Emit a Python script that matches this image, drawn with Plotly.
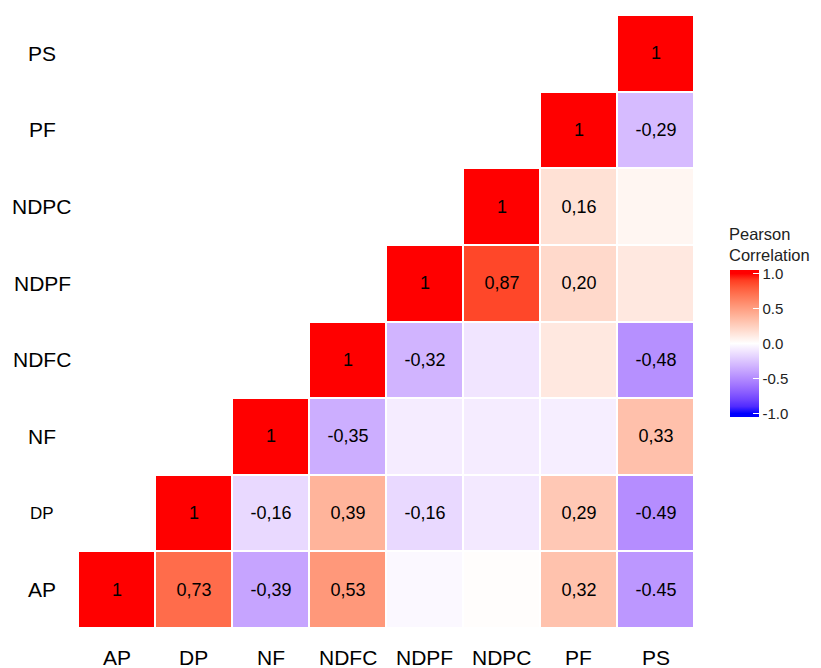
import plotly.graph_objects as go
import numpy as np

variables = ["AP", "DP", "NF", "NDFC", "NDPF", "NDPC", "PF", "PS"]

# correlation values per row (y variable), columns in order of `variables`
r_AP   = [1, 0.73, -0.39, 0.53, -0.03, 0.01, 0.32, -0.45]
r_DP   = [None, 1, -0.16, 0.39, -0.16, -0.09, 0.29, -0.49]
r_NF   = [None, None, 1, -0.35, -0.08, -0.08, -0.07, 0.33]
r_NDFC = [None, None, None, 1, -0.32, -0.11, 0.12, -0.48]
r_NDPF = [None, None, None, None, 1, 0.87, 0.20, 0.12]
r_NDPC = [None, None, None, None, None, 1, 0.16, 0.05]
r_PF   = [None, None, None, None, None, None, 1, -0.29]
r_PS   = [None, None, None, None, None, None, None, 1]

t_AP   = ["1", "0,73", "-0,39", "0,53", "", "", "0,32", "-0.45"]
t_DP   = ["", "1", "-0,16", "0,39", "-0,16", "", "0,29", "-0.49"]
t_NF   = ["", "", "1", "-0,35", "", "", "", "0,33"]
t_NDFC = ["", "", "", "1", "-0,32", "", "", "-0,48"]
t_NDPF = ["", "", "", "", "1", "0,87", "0,20", ""]
t_NDPC = ["", "", "", "", "", "1", "0,16", ""]
t_PF   = ["", "", "", "", "", "", "1", "-0,29"]
t_PS   = ["", "", "", "", "", "", "", "1"]

z = [r_AP, r_DP, r_NF, r_NDFC, r_NDPF, r_NDPC, r_PF, r_PS]
txt = [t_AP, t_DP, t_NF, t_NDFC, t_NDPF, t_NDPC, t_PF, t_PS]

legend_title = "Pearson<br>Correlation"
cbar_ticks = [-1, -0.5, 0, 0.5, 1]
cbar_ticktext = ["-1.0", "-0.5", "0.0", "0.5", "1.0"]


# Lab-space gradient blue - white - red (like ggplot scale_fill_gradient2)
def srgb_to_lin(c):
    c = c / 255.0
    return np.where(c <= 0.04045, c / 12.92, ((c + 0.055) / 1.055) ** 2.4)

def lin_to_srgb(c):
    c = np.clip(c, 0, 1)
    return np.where(c <= 0.0031308, 12.92 * c, 1.055 * c ** (1 / 2.4) - 0.055) * 255

M = np.array([[0.4124, 0.3576, 0.1805], [0.2126, 0.7152, 0.0722], [0.0193, 0.1192, 0.9505]])
Mi = np.linalg.inv(M)
wp = M @ np.ones(3)

def f(t):
    d = 6 / 29
    return np.where(t > d ** 3, np.cbrt(t), t / (3 * d * d) + 4 / 29)

def finv(t):
    d = 6 / 29
    return np.where(t > d, t ** 3, 3 * d * d * (t - 4 / 29))

def rgb2lab(rgb):
    xyz = M @ srgb_to_lin(np.array(rgb, float)) / wp
    fx, fy, fz = f(xyz)
    return np.array([116 * fy - 16, 500 * (fx - fy), 200 * (fy - fz)])

def lab2rgb(lab):
    L, a, b = lab
    fy = (L + 16) / 116
    fx = fy + a / 500
    fz = fy - b / 200
    xyz = finv(np.array([fx, fy, fz])) * wp
    return lin_to_srgb(Mi @ xyz)

# colour bar range is padded slightly beyond [-1, 1] (as ggplot's bar is)
PAD = 0.05
ZMIN, ZMAX = -1 - PAD, 1 + PAD
blue, white, red = rgb2lab([0, 0, 255]), rgb2lab([255, 255, 255]), rgb2lab([255, 0, 0])
colorscale = [[0.0, "rgb(0,0,255)"]]
n = 20
for i in range(n + 1):
    t = i / n
    if t <= 0.5:
        lab = blue + (white - blue) * (t / 0.5)
    else:
        lab = white + (red - white) * ((t - 0.5) / 0.5)
    c = lab2rgb(lab)
    v = -1 + 2 * t
    pos = (v - ZMIN) / (ZMAX - ZMIN)
    colorscale.append([pos, "rgb(%d,%d,%d)" % tuple(int(round(x)) for x in c)])
colorscale.append([1.0, "rgb(255,0,0)"])

FONT = "Liberation Sans"

fig = go.Figure(go.Heatmap(
    x=variables, y=variables, z=z, text=txt, texttemplate="%{text}",
    textfont=dict(size=18, color="black", family=FONT),
    colorscale=colorscale, zmin=ZMIN, zmax=ZMAX, xgap=2, ygap=2,
    hoverongaps=False,
    colorbar=dict(
        x=1.058, xanchor="left", xpad=0, y=0.464, yanchor="middle",
        len=147, lenmode="pixels", ypad=0,
        thickness=29, outlinewidth=0, tickvals=cbar_ticks,
        ticktext=cbar_ticktext, ticks="inside", ticklen=6,
        tickcolor="white", tickfont=dict(size=15, family=FONT, color="#222"),
    ),
))

annotations = []
for i, v in enumerate(variables):
    annotations.append(dict(x=v, y=0, xref="x", yref="paper", yshift=-29, text=v,
                            showarrow=False, xanchor="center", yanchor="middle",
                            font=dict(size=21, family=FONT, color="black")))
    annotations.append(dict(x=-0.058, y=v, xref="paper", yref="y", text=v,
                            showarrow=False, xanchor="center", yanchor="middle",
                            font=dict(size=17 if v == "DP" else 21, family=FONT, color="black")))
annotations.append(dict(x=1.058, y=0.5905, xref="paper", yref="paper", xshift=-3,
                        text=legend_title, showarrow=False, xanchor="left", yanchor="bottom",
                        align="left", font=dict(size=16.5, family=FONT, color="#222")))

# page body has an 8px margin in the browser, so the figure is 8px smaller
fig.update_layout(
    width=813, height=660, paper_bgcolor="white", plot_bgcolor="white",
    margin=dict(l=70, r=127, t=7, b=40, autoexpand=False),
    xaxis=dict(showticklabels=False, showgrid=False, zeroline=False, ticks=""),
    yaxis=dict(showticklabels=False, showgrid=False, zeroline=False, ticks=""),
    annotations=annotations,
    font=dict(family=FONT),
)

fig.write_html("out.html")
